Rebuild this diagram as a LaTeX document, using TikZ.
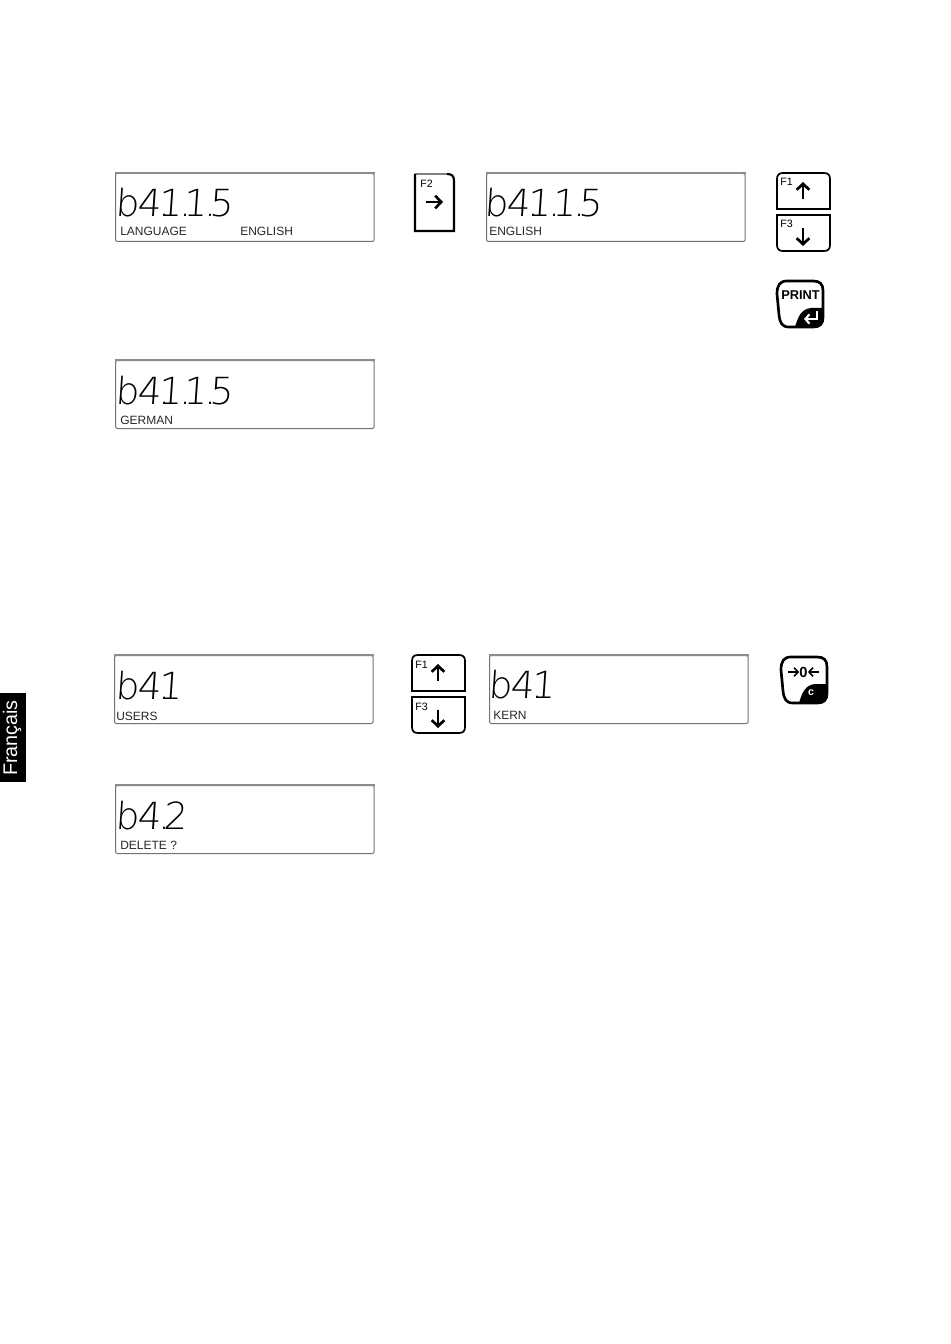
\documentclass[tikz,border=0pt]{standalone}
\usepackage{fontspec}
\setmainfont{Liberation Sans}
\newfontfamily\lcdfont{DejaVu Sans ExtraLight}
\usetikzlibrary{arrows.meta}
\newlength{\pxu}
\setlength{\pxu}{.75pt}
\tikzset{
	lcdbox/.style={draw=black!55,line width=.75pt,rounded corners=1.5pt,inner sep=0pt,minimum width=194pt,minimum height=51pt,anchor=north west},
	lcdtop/.style={draw=black!45,line width=1.4pt},
	lcdread/.style={anchor=base west,inner sep=0pt,font=\lcdfont\fontsize{28pt}{28pt}\selectfont,xslant=.07,transform shape},
	lcdlabel/.style={anchor=base west,inner sep=0pt,font=\fontsize{9pt}{9pt}\selectfont,text=black!85},
	keyline/.style={draw=black,line width=1.3pt},
	keyname/.style={anchor=base west,inner sep=0pt,font=\fontsize{8pt}{8pt}\selectfont},
	keyarrow/.style={line width=2pt,-{Straight Barb[length=4.5pt,width=9.5pt,line width=2pt]}},
	softline/.style={draw=black,line width=2pt},
}
% one cell of the readout, width in pixels
\newcommand{\lc}[2]{\makebox[#1\pxu][r]{#2}}
\newcommand{\ld}{\makebox[7\pxu][c]{.}}
\newcommand{\readlong}{\lc{18}{b}\lc{22}{4}\ld\lc{14}{1}\ld\lc{18}{1}\ld\lc{19}{5}}
% a key with round corners on top
\newcommand{\keyup}[2]{
	\draw[keyline,shift={(#1,#2)}] (0,36) -- (0,6) .. controls (0,2) and (2,0) .. (6,0) -- (47,0) .. controls (51,0) and (53,2) .. (53,6) -- (53,36) -- cycle;
	\node[keyname] (up#1) at (#1+3,#2+13) {F1};
	\coordinate (upa#1) at (#1+26,#2+26);
	\coordinate (upb#1) at (#1+26,#2+9);
	\draw[keyarrow] (upa#1) -- (upb#1);
}
% a key with round corners below
\newcommand{\keydown}[2]{
	\draw[keyline,shift={(#1,#2)}] (0,0) -- (53,0) -- (53,30) .. controls (53,34) and (51,36) .. (47,36) -- (6,36) .. controls (2,36) and (0,34) .. (0,30) -- cycle;
	\node[keyname] (down#1) at (#1+3,#2+13) {F3};
	\coordinate (downa#1) at (#1+26,#2+13);
	\coordinate (downb#1) at (#1+26,#2+31);
	\draw[keyarrow] (downa#1) -- (downb#1);
}
% outline and black corner of PRINT and zero keys
\newcommand{\softkey}[2]{
	\begin{scope}[shift={(#1,#2)}]
		\draw[softline,fill=white] (10,0) -- (36,0) .. controls (43,0) and (46,3) .. (46,10) -- (46,36) .. controls (46,43) and (43,46) .. (36,46) -- (12,46) .. controls (5,46) and (3,42) .. (2,34) -- (0,13) .. controls (0,4) and (3,0) .. (10,0) -- cycle;
		\fill (46,27) -- (46,36) .. controls (46,43) and (43,46) .. (36,46) -- (18,46) .. controls (21,36) and (24,28) .. (34,27) -- cycle;
	\end{scope}
}
\begin{document}
\begin{tikzpicture}[x=.75pt,y=-.75pt]
	\useasboundingbox (0,0) rectangle (950,1344);
	% displays
	\foreach \name/\x/\y in {lcdA/115/173,lcdB/486/173,lcdC/115/360,lcdD/114/655,lcdE/489/655,lcdF/115/785}{
		\node[lcdbox,name=\name] at (\x,\y) {};
		\draw[lcdtop] (\name.north west) -- (\name.north east);
	}
	\node[lcdread] (readA) at (121,217) {\readlong};
	\node[lcdread] (readB) at (490,217) {\readlong};
	\node[lcdread] (readC) at (121,404) {\readlong};
	\node[lcdread] (readD) at (121,699) {\lc{18}{b}\lc{22}{4}\ld\lc{14}{1}};
	\node[lcdread] (readE) at (494,698) {\lc{18}{b}\lc{22}{4}\ld\lc{14}{1}};
	\node[lcdread] (readF) at (121,829) {\lc{18}{b}\lc{22}{4}\ld\lc{19}{2}};
	\node[lcdlabel] (textA) at (120,236) {LANGUAGE};
	\node[lcdlabel] (textAb) at (240,236) {ENGLISH};
	\node[lcdlabel] (textB) at (489,236) {ENGLISH};
	\node[lcdlabel] (textC) at (120,424) {GERMAN};
	\node[lcdlabel] (textD) at (116,720) {USERS};
	\node[lcdlabel] (textE) at (493,719) {KERN};
	\node[lcdlabel] (textF) at (120,849) {DELETE ?};
	% F2 key
	\draw[draw=black!50,line width=1.2pt] (415,174) -- (447,174);
	\draw[keyline,line width=1.6pt] (447,174) .. controls (452,174) and (454,176) .. (454,181) -- (454,231) -- (415,231) -- (415,174);
	\node[keyname] (keyF) at (420,188) {F2};
	\coordinate (arrowFa) at (426,202);
	\coordinate (arrowFb) at (443,202);
	\draw[keyarrow] (arrowFa) -- (arrowFb);
	% arrow keys
	\keyup{777}{173}
	\keydown{777}{215}
	\keyup{412}{655}
	\keydown{412}{697}
	% PRINT key
	\softkey{777}{281}
	\node[inner sep=0pt,font=\bfseries\fontsize{9.6pt}{9.6pt}\selectfont] (keyprint) at (800.5,295.5) {PRINT};
	\draw[white,line width=1.6pt,-{Straight Barb[length=3pt,width=7pt,line width=1.6pt]}] (817,311) -- (817,319) -- (804,319);
	% zero key
	\softkey{781}{657}
	\node[inner sep=0pt,font=\bfseries\fontsize{11pt}{11pt}\selectfont] (keyzero) at (803.5,672) {0};
	\coordinate (zeroa) at (788,672);
	\coordinate (zerob) at (819,672);
	\draw[line width=1.2pt,-{Straight Barb[length=3pt,width=6.5pt,line width=1.2pt]}] (zeroa) -- (keyzero);
	\draw[line width=1.2pt,-{Straight Barb[length=3pt,width=6.5pt,line width=1.2pt]}] (zerob) -- (keyzero);
	\node[inner sep=0pt,text=white,font=\bfseries\fontsize{8pt}{8pt}\selectfont] (keyc) at (811,693) {c};
	% language tab
	\fill (0,693) rectangle (26,782);
	\node[inner sep=0pt,text=white,rotate=90,font=\fontsize{14.8pt}{14.8pt}\selectfont] (tab) at (12,738) {Français};
\end{tikzpicture}
\end{document}
